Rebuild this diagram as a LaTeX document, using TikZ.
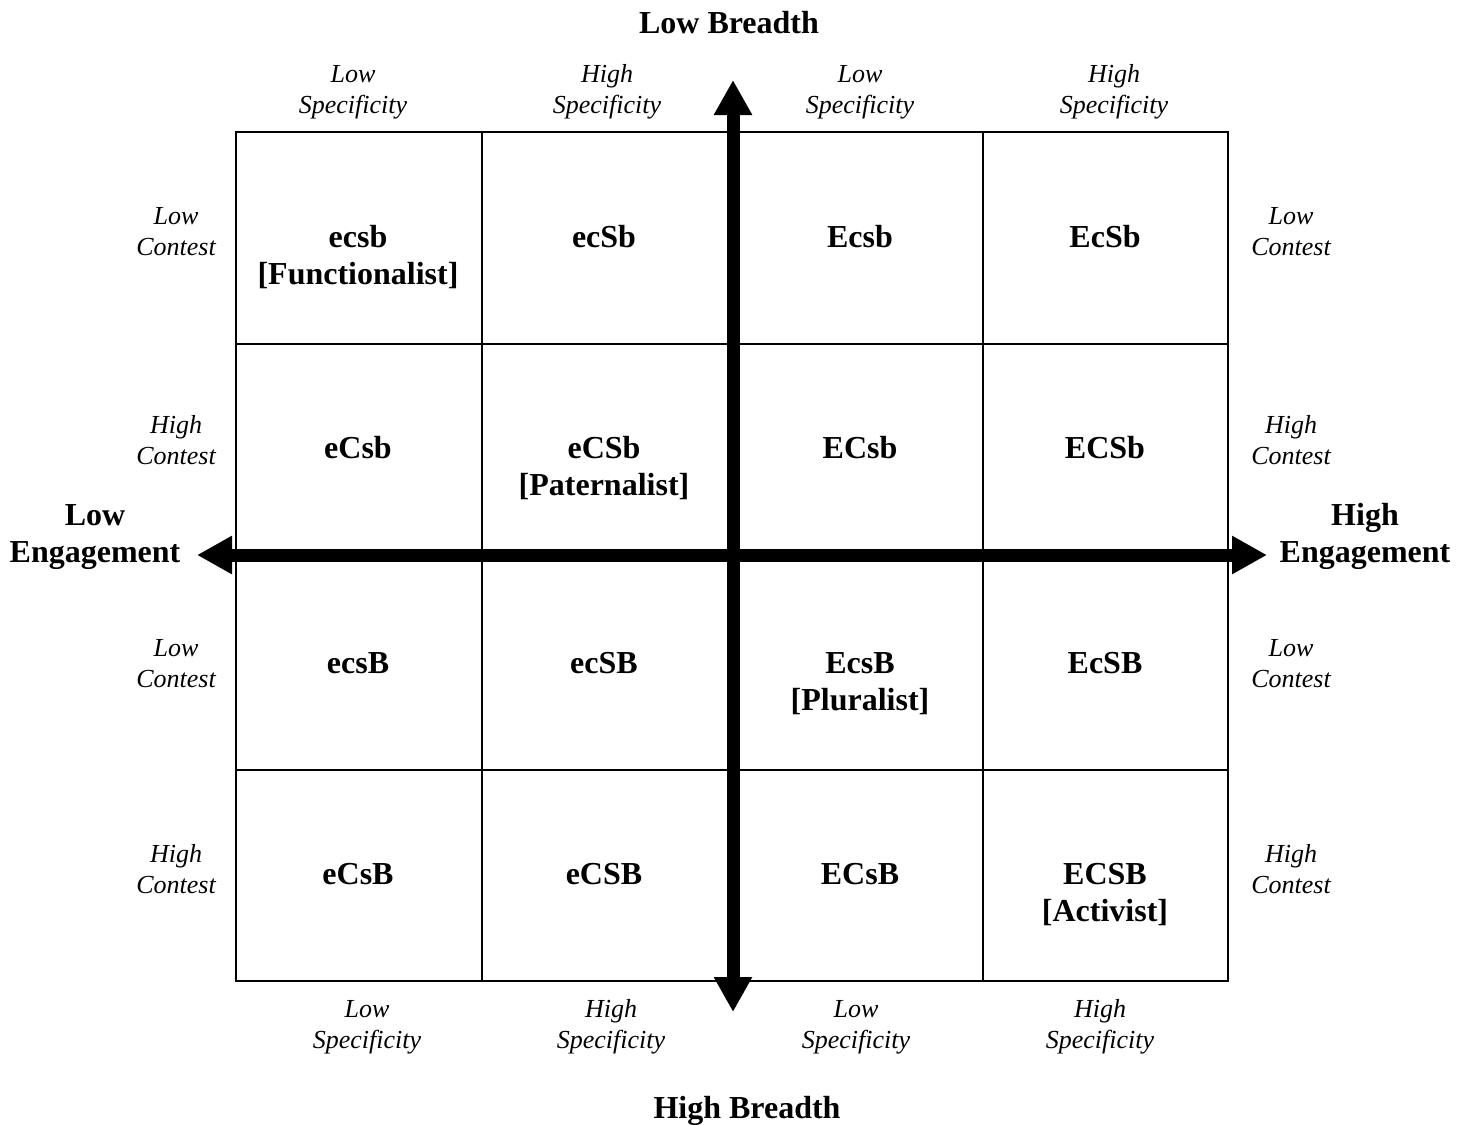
\documentclass[tikz,border=0pt]{standalone}
\usepackage{fontspec}
\setmainfont{Liberation Serif}
\usetikzlibrary{arrows.meta}

\begin{document}
\begin{tikzpicture}[x=0.5pt,y=-0.5pt,line width=0.8pt,
    cell/.style={font=\fontsize{16}{18.5}\selectfont\bfseries,align=center,anchor=base},
    dim/.style={font=\fontsize{13}{15.5}\selectfont\itshape,align=center,anchor=base},
    axislabel/.style={font=\fontsize{16}{18.5}\selectfont\bfseries,align=center,anchor=base},
    bigarrow/.style={line width=6.5pt,arrows={Triangle[length=17.5pt,width=18pt]-Triangle[length=17.5pt,width=18pt]}}]
  \useasboundingbox (0,0) rectangle (1470,1124);

  % grid
  \draw (236,132) rectangle (1228,981);
  \draw (482,132) -- (482,981) (733,132) -- (733,981) (983,132) -- (983,981);
  \draw (236,344) -- (1228,344) (236,557) -- (1228,557) (236,770) -- (1228,770);

  % axes
  \coordinate (btop) at (733,80);
  \coordinate (bbot) at (733,1012);
  \coordinate (eleft) at (197,555);
  \coordinate (eright) at (1267,555);
  \draw[bigarrow] (btop) -- (bbot);
  \draw[bigarrow] (eleft) -- (eright);

  \node[axislabel] (lowb) at (729,33) {Low Breadth};
  \node[axislabel] (highb) at (747,1118) {High Breadth};
  \node[axislabel] (lowe) at (95,562) {Low\\Engagement};
  \node[axislabel] (highe) at (1365,562) {High\\Engagement};

  % specificity
  \node[dim] (t1) at (353,113) {Low\\Specificity};
  \node[dim] (t2) at (607,113) {High\\Specificity};
  \node[dim] (t3) at (860,113) {Low\\Specificity};
  \node[dim] (t4) at (1114,113) {High\\Specificity};
  \node[dim] (b1) at (367,1048) {Low\\Specificity};
  \node[dim] (b2) at (611,1048) {High\\Specificity};
  \node[dim] (b3) at (856,1048) {Low\\Specificity};
  \node[dim] (b4) at (1100,1048) {High\\Specificity};

  % contest
  \node[dim] (l1) at (176,255) {Low\\Contest};
  \node[dim] (l2) at (176,464) {High\\Contest};
  \node[dim] (l3) at (176,687) {Low\\Contest};
  \node[dim] (l4) at (176,893) {High\\Contest};
  \node[dim] (r1) at (1291,255) {Low\\Contest};
  \node[dim] (r2) at (1291,464) {High\\Contest};
  \node[dim] (r3) at (1291,687) {Low\\Contest};
  \node[dim] (r4) at (1291,893) {High\\Contest};

  % cells
  \node[cell] (c11) at (358,284) {ecsb\\{}[Functionalist]};
  \node[cell] (c12) at (604,247) {ecSb};
  \node[cell] (c13) at (860,247) {Ecsb};
  \node[cell] (c14) at (1105,247) {EcSb};
  \node[cell] (c21) at (358,458) {eCsb};
  \node[cell] (c22) at (604,495) {eCSb\\{}[Paternalist]};
  \node[cell] (c23) at (860,458) {ECsb};
  \node[cell] (c24) at (1105,458) {ECSb};
  \node[cell] (c31) at (358,673) {ecsB};
  \node[cell] (c32) at (604,673) {ecSB};
  \node[cell] (c33) at (860,710) {EcsB\\{}[Pluralist]};
  \node[cell] (c34) at (1105,673) {EcSB};
  \node[cell] (c41) at (358,884) {eCsB};
  \node[cell] (c42) at (604,884) {eCSB};
  \node[cell] (c43) at (860,884) {ECsB};
  \node[cell] (c44) at (1105,921) {ECSB\\{}[Activist]};
\end{tikzpicture}
\end{document}
